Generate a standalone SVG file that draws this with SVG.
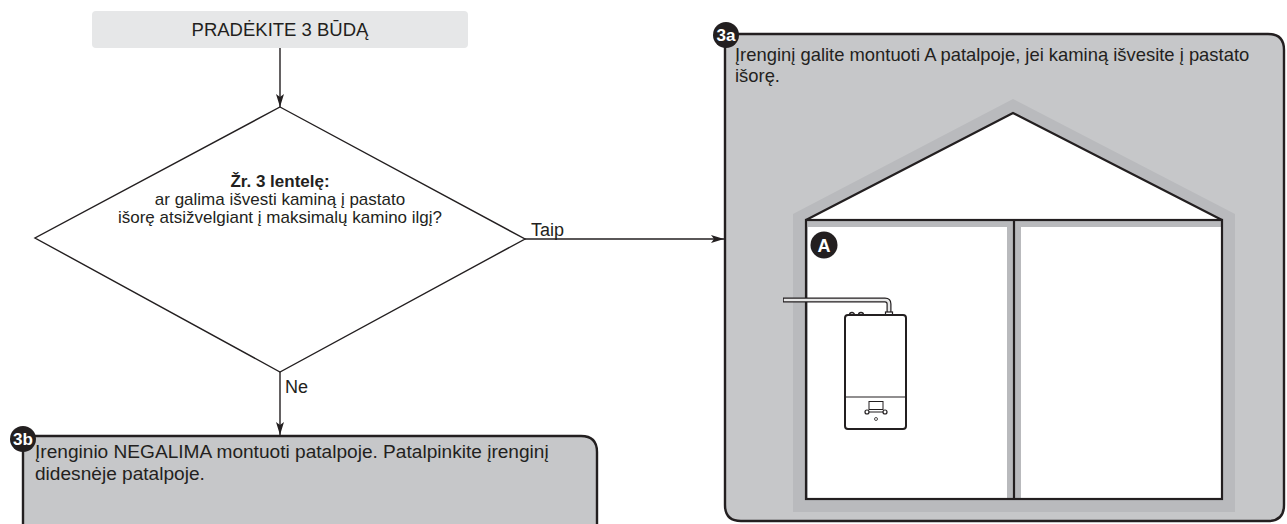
<svg xmlns="http://www.w3.org/2000/svg" width="1287" height="524" viewBox="0 0 1287 524">
  <style>
    .txt { font-family: "Liberation Sans", Arial, sans-serif; font-size: 18px; fill: #231f20; }
    .start-txt { font-size: 18.5px; }
    .dec { font-size: 17px; }
    .box3a-txt { font-size: 18.4px; }
    .box3b-txt { font-size: 19.1px; }
    .bold { font-weight: bold; }
    .badge { fill: #231f20; }
    .badge-txt { font-family: "Liberation Sans", Arial, sans-serif; font-size: 17px; font-weight: bold; fill: #ffffff; }
    .room-txt { font-size: 18px; }
    .panel { fill: #c6c7c9; stroke: #231f20; stroke-width: 2.4; }
    .ink { fill: none; stroke: #231f20; stroke-width: 2.2; }
    .conn { fill: none; stroke: #231f20; stroke-width: 1.4; }
  </style>
  <defs>
    <marker id="arrow" markerUnits="userSpaceOnUse" markerWidth="14" markerHeight="10" refX="13" refY="4" orient="auto">
      <path d="M0,0 L13,4 L0,8 L3,4 z" fill="#231f20"/>
    </marker>
  </defs>

  <rect width="1287" height="524" fill="#ffffff"/>

  <!-- start node -->
  <g id="start">
    <rect x="92" y="11" width="376" height="37" rx="4" fill="#e6e7e8"/>
    <text class="txt start-txt" x="280" y="36" text-anchor="middle">PRADĖKITE 3 BŪDĄ</text>
  </g>

  <!-- decision node -->
  <g id="decision">
    <polygon points="280,107 525,239 280,372 35,238" fill="#ffffff" stroke="#231f20" stroke-width="1.4"/>
    <text class="txt dec bold" x="280" y="187" text-anchor="middle">Žr. 3 lentelę:</text>
    <text class="txt dec" x="280" y="205" text-anchor="middle">ar galima išvesti kaminą į pastato</text>
    <text class="txt dec" x="280" y="223" text-anchor="middle">išorę atsižvelgiant į maksimalų kamino ilgį?</text>
  </g>

  <!-- result 3b -->
  <g id="result-3b">
    <path class="panel" d="M23,436 H581 Q597,436 597,452 V545 H23 Z"/>
    <circle class="badge" cx="23" cy="439" r="13"/>
    <text class="badge-txt" x="23" y="445" text-anchor="middle">3b</text>
    <text class="txt box3b-txt" x="35" y="458">Įrenginio NEGALIMA montuoti patalpoje. Patalpinkite įrenginį</text>
    <text class="txt box3b-txt" x="35" y="480">didesnėje patalpoje.</text>
  </g>

  <!-- result 3a with house drawing -->
  <g id="result-3a">
    <path class="panel" d="M725,34 H1268 Q1284,34 1284,50 V505 Q1284,521 1268,521 H741 Q725,521 725,505 Z"/>
    <circle class="badge" cx="726" cy="35" r="13"/>
    <text class="badge-txt" x="726" y="41" text-anchor="middle">3a</text>
    <text class="txt box3a-txt" x="735" y="61">Įrenginį galite montuoti A patalpoje, jei kaminą išvesite į pastato</text>
    <text class="txt box3a-txt" x="735" y="82">išorę.</text>

    <g id="house">
      <!-- outer wall band -->
      <polygon points="793,214 1013,99 1235,214 1235,512 793,512" fill="#b9babd"/>
      <!-- roof -->
      <polygon points="806,220 1013,113 1222,220" fill="#ffffff"/>
      <!-- rooms -->
      <rect x="808" y="227" width="199" height="271" fill="#ffffff"/>
      <rect x="1021" y="227" width="200" height="271" fill="#ffffff"/>
      <polyline class="ink" points="806,220 1013,113 1222,220"/>
      <rect class="ink" x="806" y="220" width="416" height="279"/>
      <line class="ink" x1="1014" y1="220" x2="1014" y2="499"/>

      <!-- room label -->
      <circle class="badge" cx="824" cy="245" r="13.5"/>
      <text class="badge-txt room-txt" x="824" y="251.5" text-anchor="middle">A</text>

      <!-- flue pipe -->
      <path d="M783,300 H885 Q889,300 889,304 V315" fill="none" stroke="#231f20" stroke-width="5"/>
      <path d="M783.8,300 H885 Q889,300 889,304 V315" fill="none" stroke="#e8e8e8" stroke-width="2.6"/>

      <!-- boiler -->
      <path d="M849.5,315 a2.5,2.5 0 0 1 5,0 M858.5,315 a2.5,2.5 0 0 1 5,0" fill="#ffffff" stroke="#231f20" stroke-width="1.3"/>
      <rect x="885.5" y="312" width="7" height="4" fill="#ffffff" stroke="#231f20" stroke-width="1.2"/>
      <rect x="845" y="315" width="61" height="114" rx="3" fill="#ffffff" stroke="#231f20" stroke-width="2"/>
      <line x1="845" y1="397" x2="906" y2="397" stroke="#231f20" stroke-width="1.2"/>
      <rect x="869" y="401.5" width="14" height="8" fill="none" stroke="#231f20" stroke-width="1"/>
      <line x1="867" y1="412" x2="885" y2="412" stroke="#231f20" stroke-width="1"/>
      <circle cx="867" cy="412" r="2" fill="#ffffff" stroke="#231f20" stroke-width="1.2"/>
      <circle cx="885" cy="412" r="2" fill="#ffffff" stroke="#231f20" stroke-width="1.2"/>
      <circle cx="876" cy="419" r="1.5" fill="none" stroke="#231f20" stroke-width="0.8"/>
    </g>
  </g>

  <!-- connectors -->
  <g id="connectors">
    <line class="conn" x1="280" y1="48" x2="280" y2="107" marker-end="url(#arrow)"/>
    <line class="conn" x1="525" y1="239" x2="724" y2="239" marker-end="url(#arrow)"/>
    <line class="conn" x1="280" y1="372" x2="280" y2="435" marker-end="url(#arrow)"/>
    <text class="txt" x="531" y="236">Taip</text>
    <text class="txt" x="285" y="393">Ne</text>
  </g>
</svg>
